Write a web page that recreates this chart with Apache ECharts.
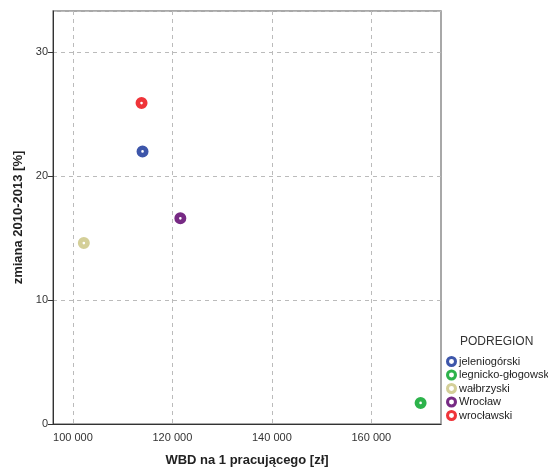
<!DOCTYPE html>
<html>
<head>
<meta charset="utf-8">
<script src="https://cdn.jsdelivr.net/npm/echarts@6/dist/echarts.min.js"></script>
<style>
  html, body { margin: 0; padding: 0; background: #fff; }
  #chart { width: 548px; height: 467px; }
</style>
</head>
<body>
<div id="chart"></div>
<script>
// dane podregionów
var regions = ['jeleniogórski', 'legnicko-głogowski', 'wałbrzyski', 'Wrocław', 'wrocławski'];
var colors = ['#3d56aa', '#2db34b', '#d4cf98', '#772a84', '#ef3439'];
var wbd = [114000, 169900, 102200, 121600, 113800];
var zmiana = [22.0, 1.7, 14.6, 16.6, 25.9];
var xTicks = [100000, 120000, 140000, 160000];

// pierścień z małym białym środkiem
var ringPoint = 'path://M0,-10A10,10 0 1,1 0,10A10,10 0 1,1 0,-10ZM0,-2.2A2.2,2.2 0 1,0 0,2.2A2.2,2.2 0 1,0 0,-2.2Z';
var ringLegend = 'path://M0,-10A10,10 0 1,1 0,10A10,10 0 1,1 0,-10ZM0,-4.5A4.5,4.5 0 1,0 0,4.5A4.5,4.5 0 1,0 0,-4.5Z';

var chart = echarts.init(document.getElementById('chart'));

var series = regions.map(function (name, i) {
  return {
    name: name,
    type: 'scatter',
    data: [[wbd[i], zmiana[i]]],
    symbol: ringPoint,
    symbolSize: 12,
    itemStyle: { color: colors[i], opacity: 1 }
  };
});

chart.setOption({
  animation: false,
  textStyle: { fontFamily: 'Arial, "Liberation Sans", sans-serif' },
  title: {
    text: 'PODREGION',
    left: 460,
    top: 336,
    padding: 0,
    textStyle: { fontSize: 12, fontWeight: 'normal', color: '#333' }
  },
  legend: {
    orient: 'vertical',
    left: 446,
    top: 355,
    padding: 0,
    itemWidth: 11,
    itemHeight: 11,
    itemGap: 0.5,
    icon: ringLegend,
    textStyle: { fontSize: 11, lineHeight: 13, color: '#222', padding: [0, 0, 0, -3] },
    data: regions
  },
  grid: {
    left: 53,
    top: 11,
    width: 388,
    height: 413,
    outerBoundsMode: 'none',
    containLabel: false,
    show: true,
    borderColor: '#8c8c8c',
    borderWidth: 1.5
  },
  xAxis: {
    type: 'value',
    min: 96000,
    max: 174000,
    name: 'WBD na 1 pracującego [zł]',
    nameLocation: 'middle',
    nameGap: 30,
    nameTextStyle: { fontSize: 13, fontWeight: 'bold', color: '#222' },
    axisLine: { show: true, lineStyle: { color: '#333', width: 1 } },
    axisTick: { show: false, customValues: xTicks },
    axisLabel: {
      customValues: xTicks,
      fontSize: 11,
      color: '#333',
      margin: 8,
      formatter: function (v) { return String(v).replace(/\B(?=(\d{3})+(?!\d))/g, ' '); }
    },
    splitLine: { show: true, customValues: xTicks, lineStyle: { color: '#bbb', type: [4, 4], width: 1 } }
  },
  yAxis: {
    type: 'value',
    min: 0,
    max: 33.33,
    interval: 10,
    name: 'zmiana 2010-2013 [%]',
    nameLocation: 'middle',
    nameGap: 27,
    nameTextStyle: { fontSize: 13, fontWeight: 'bold', color: '#222' },
    axisLine: { show: true, lineStyle: { color: '#333', width: 1 } },
    axisTick: { show: true, length: 5, lineStyle: { color: '#333' } },
    axisLabel: { fontSize: 11, color: '#333', margin: 5, showMaxLabel: false },
    splitLine: { show: true, lineStyle: { color: '#bbb', type: [4, 4], width: 1 } }
  },
  series: series
});
</script>
</body>
</html>
